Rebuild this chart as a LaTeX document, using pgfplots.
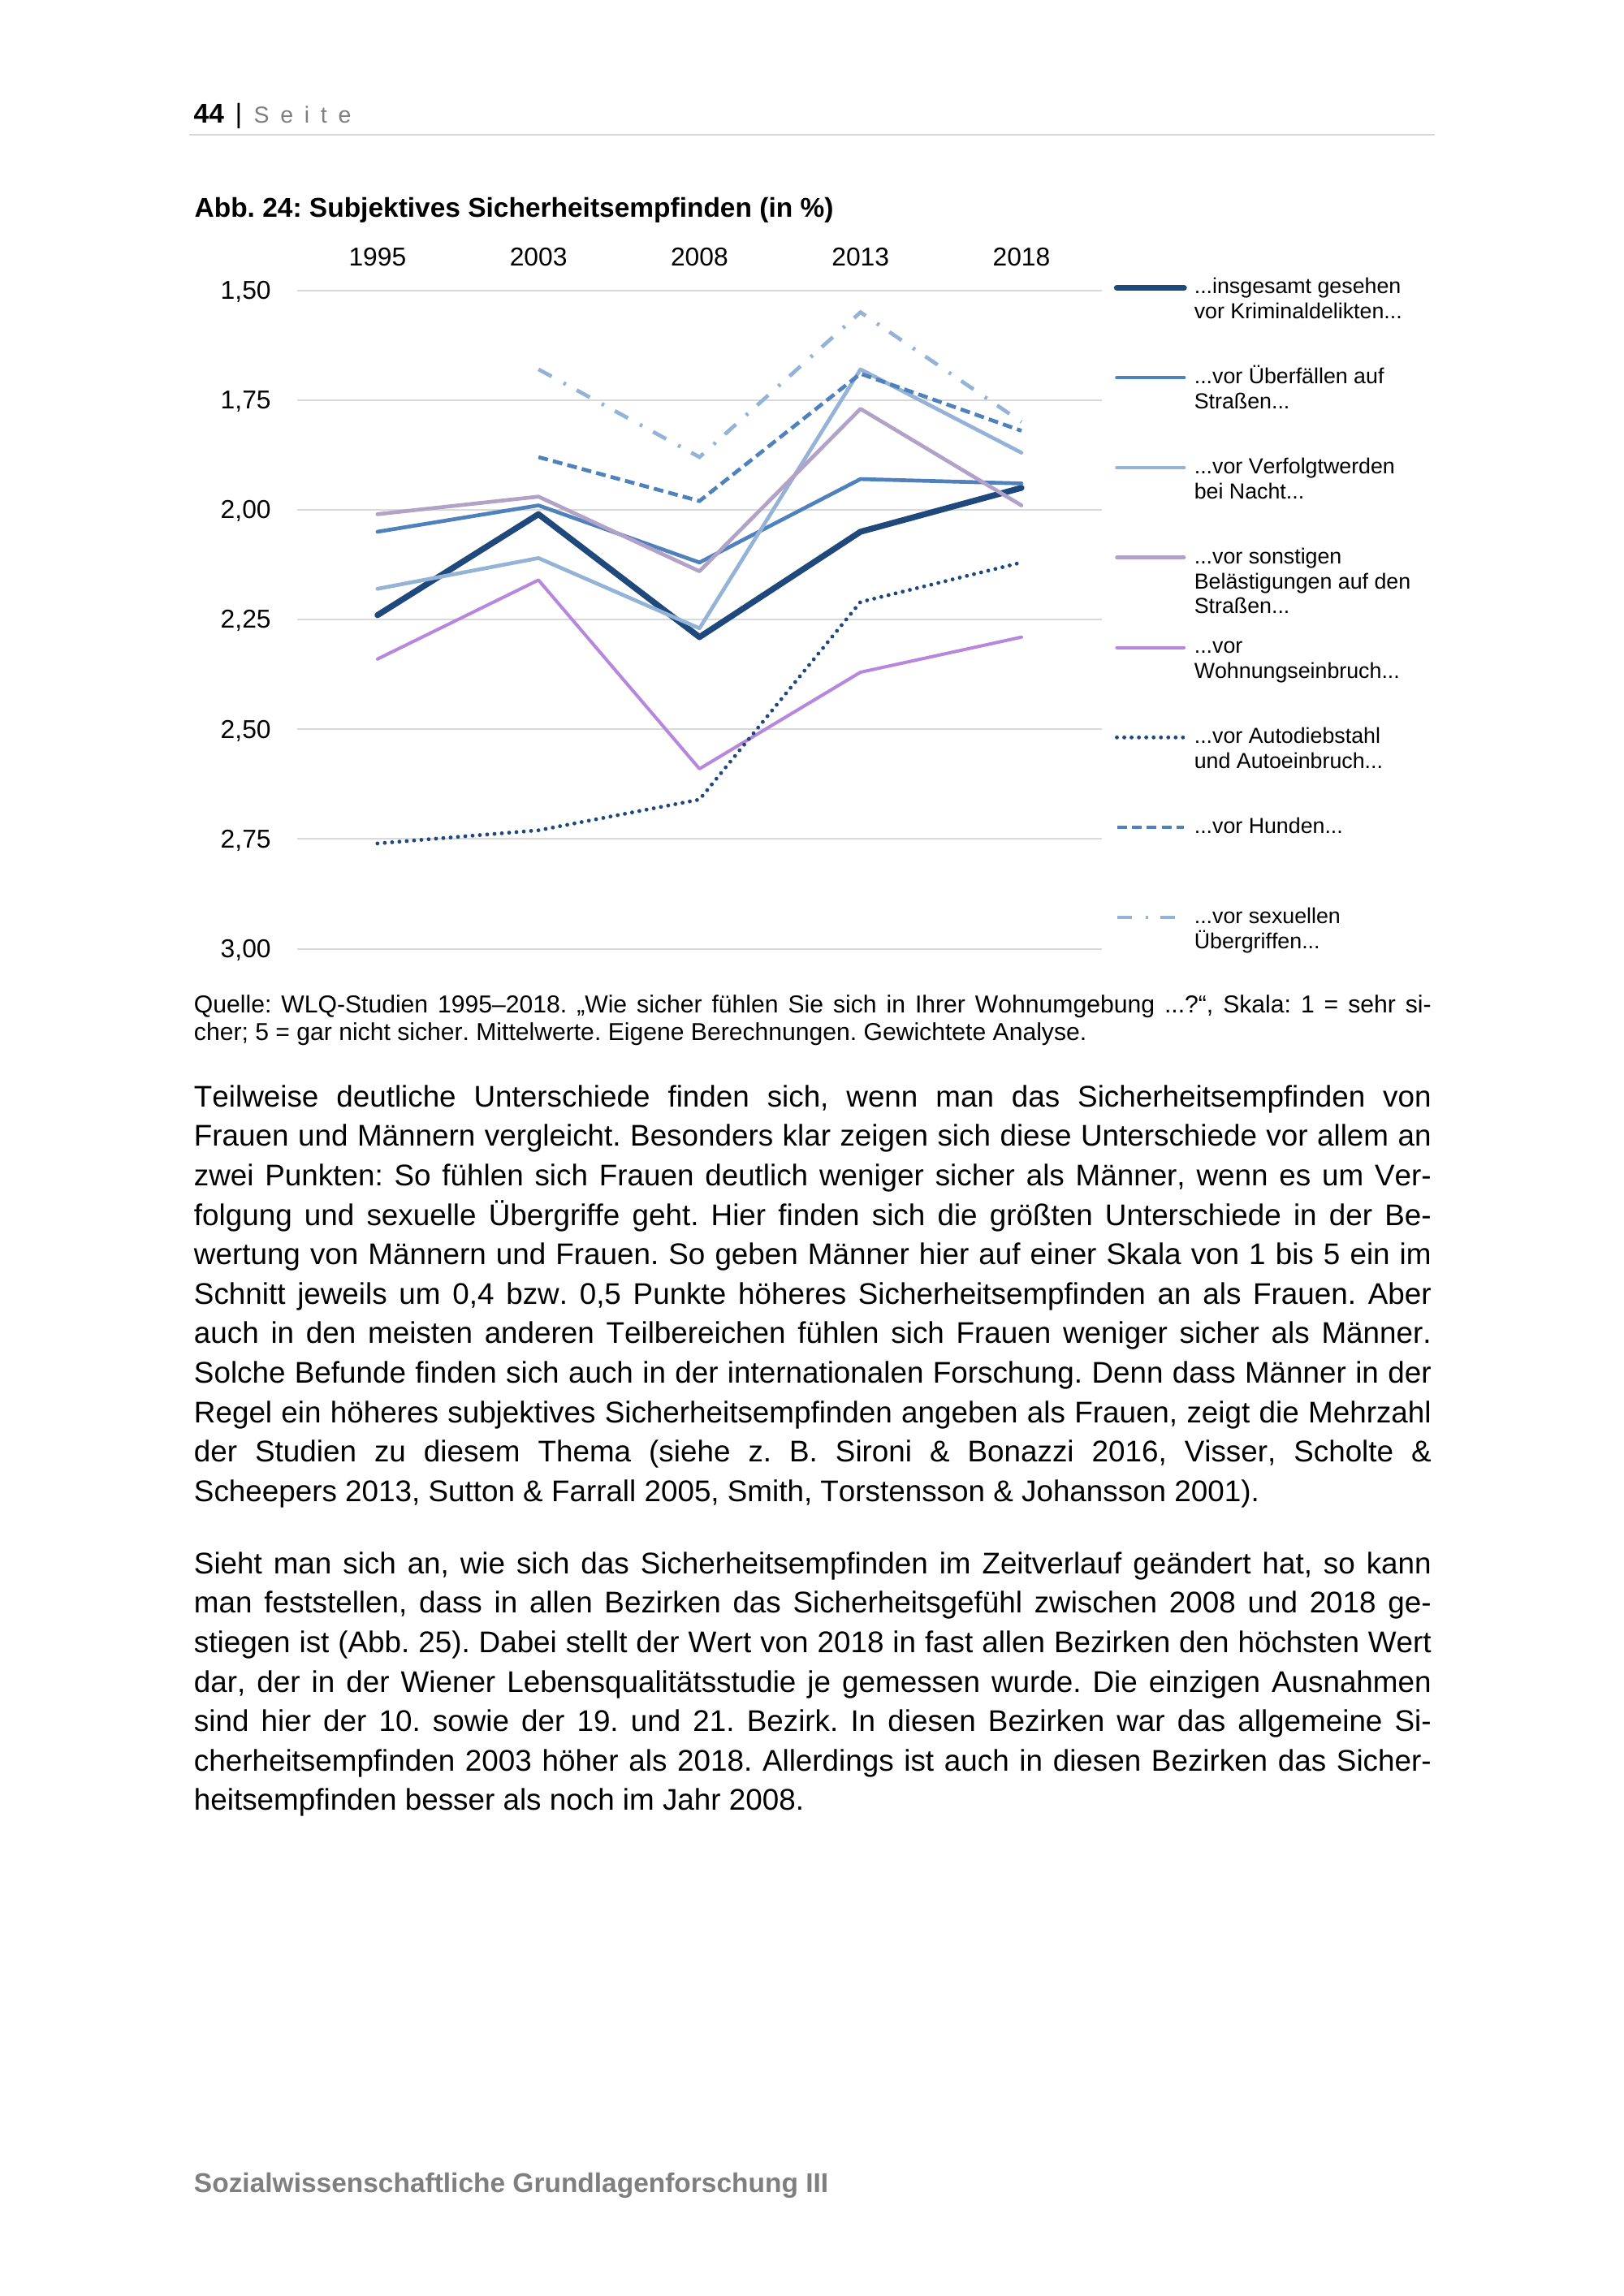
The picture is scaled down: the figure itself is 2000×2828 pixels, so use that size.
\documentclass[border=0pt]{standalone}
\usepackage{fontspec}
\setmainfont{Liberation Sans}[Ligatures=CommonOff, Kerning=Off]
\usepackage{pgfplots}
\pgfplotsset{compat=1.18}
\frenchspacing

\definecolor{navy}{RGB}{31,73,125}
\definecolor{midblue}{RGB}{79,129,189}
\definecolor{lightblue}{RGB}{149,179,215}
\definecolor{lilac}{RGB}{179,162,199}
\definecolor{orchid}{RGB}{183,135,222}
\definecolor{gridgray}{RGB}{217,217,217}
\definecolor{textgray}{RGB}{127,127,127}

% legend text block, first line is the baseline
\newcommand{\lt}[1]{\parbox[t]{35mm}{\raggedright #1}}

\begin{document}
\begin{tikzpicture}
% page in pixel units of the 2000 x 2828 reference
\begin{scope}[x=0.105mm, y=-0.105mm]
\fill[white] (0,0) rectangle (2000,2828);
\useasboundingbox (0,0) rectangle (2000,2828);

% header
\node[anchor=base west, inner sep=0pt, font=\bfseries\fontsize{10pt}{12pt}\selectfont] at (238,151.7) {44};
\node[anchor=base, inner sep=0pt, font=\fontsize{10pt}{12pt}\selectfont] at (294,151.7) {|};
\node[anchor=base west, inner sep=0pt, text=textgray, font=\fontsize{8.5pt}{10pt}\selectfont] at (312,151.7)
  {S\hspace{4.1pt}e\hspace{4.1pt}i\hspace{4.1pt}t\hspace{4.1pt}e};
\draw[gridgray, line width=0.6pt] (233,165.7) -- (1767,165.7);

% figure title
\node[anchor=base west, inner sep=0pt, font=\bfseries\fontsize{10pt}{12pt}\selectfont] at (239,267.5)
  {Abb. 24: Subjektives Sicherheitsempfinden (in \%)};

% source line
\node[anchor=base west, inner sep=0pt] at (238.3,1247.7) {\parbox[t]{160mm}{\fontsize{9pt}{10.12pt}\selectfont\tolerance=9999
Quelle: WLQ-Studien 1995–2018. „Wie sicher fühlen Sie sich in Ihrer Wohnumgebung ...?“, Skala: 1 = sehr si-\linebreak
cher; 5 = gar nicht sicher. Mittelwerte. Eigene Berechnungen. Gewichtete Analyse.}};

% body text
\node[anchor=base west, inner sep=0pt] at (238.3,1363.3) {\parbox[t]{160mm}{\fontsize{11pt}{14.52pt}\selectfont\tolerance=9999
Teilweise deutliche Unterschiede finden sich, wenn man das Sicherheitsempfinden von\linebreak
Frauen und Männern vergleicht. Besonders klar zeigen sich diese Unterschiede vor allem an\linebreak
zwei Punkten: So fühlen sich Frauen deutlich weniger sicher als Männer, wenn es um Ver-\linebreak
folgung und sexuelle Übergriffe geht. Hier finden sich die größten Unterschiede in der Be-\linebreak
wertung von Männern und Frauen. So geben Männer hier auf einer Skala von 1 bis 5 ein im\linebreak
Schnitt jeweils um 0,4 bzw. 0,5 Punkte höheres Sicherheitsempfinden an als Frauen. Aber\linebreak
auch in den meisten anderen Teilbereichen fühlen sich Frauen weniger sicher als Männer.\linebreak
Solche Befunde finden sich auch in der internationalen Forschung. Denn dass Männer in der\linebreak
Regel ein höheres subjektives Sicherheitsempfinden angeben als Frauen, zeigt die Mehrzahl\linebreak
der Studien zu diesem Thema (siehe z. B. Sironi \& Bonazzi 2016, Visser, Scholte \&\linebreak
Scheepers 2013, Sutton \& Farrall 2005, Smith, Torstensson \& Johansson 2001).}};

\node[anchor=base west, inner sep=0pt] at (238.3,1938.3) {\parbox[t]{160mm}{\fontsize{11pt}{14.52pt}\selectfont\tolerance=9999
Sieht man sich an, wie sich das Sicherheitsempfinden im Zeitverlauf geändert hat, so kann\linebreak
man feststellen, dass in allen Bezirken das Sicherheitsgefühl zwischen 2008 und 2018 ge-\linebreak
stiegen ist (Abb. 25). Dabei stellt der Wert von 2018 in fast allen Bezirken den höchsten Wert\linebreak
dar, der in der Wiener Lebensqualitätsstudie je gemessen wurde. Die einzigen Ausnahmen\linebreak
sind hier der 10. sowie der 19. und 21. Bezirk. In diesen Bezirken war das allgemeine Si-\linebreak
cherheitsempfinden 2003 höher als 2018. Allerdings ist auch in diesen Bezirken das Sicher-\linebreak
heitsempfinden besser als noch im Jahr 2008.}};

% footer
\node[anchor=base west, inner sep=0pt, text=textgray, font=\bfseries\fontsize{10pt}{12pt}\selectfont] at (238.3,2700)
  {Sozialwissenschaftliche Grundlagenforschung III};
\end{scope}

\begin{axis}[
    at={(38.40mm,-37.54mm)}, anchor=north west,
    scale only axis, width=104.09mm, height=85.16mm,
    xmin=-0.5, xmax=4.5, ymin=1.5, ymax=3, y dir=reverse,
    xtick={0,1,2,3,4}, xticklabels={1995,2003,2008,2013,2018},
    xticklabel pos=upper,
    ytick={1.5,1.75,2,2.25,2.5,2.75,3},
    yticklabels={{1,50},{1,75},{2,00},{2,25},{2,50},{2,75},{3,00}},
    axis line style={draw=none}, major tick length=0pt, tick style={draw=none},
    ymajorgrids, major grid style={gridgray, line width=0.6pt},
    tick label style={font=\fontsize{9.5pt}{11pt}\selectfont},
    xticklabel style={anchor=base, inner sep=0pt, yshift=3.13mm},
    yticklabel style={anchor=base east, inner sep=0pt, xshift=-3.3mm, yshift=-3.2pt},
    clip=false,
    legend style={at={(axis description cs:1.01483,1.0238)}, anchor=north west,
        draw=none, fill=none, inner sep=0pt, outer sep=0pt,
        row sep=3.1pt, column sep=0.95mm,
        font=\fontsize{8pt}{9.24pt}\selectfont,
        cells={anchor=base west},
        nodes={inner sep=0pt, text height=7pt, text depth=23pt}},
    legend image code/.code={\draw[#1] (0.3mm,2.2pt) -- (8.97mm,2.2pt);},
]
% ...insgesamt gesehen
\addplot[navy, line width=2.2pt, line join=round, line cap=round] coordinates {
    (0,2.24) (1,2.01) (2,2.29) (3,2.05) (4,1.95)};
\addlegendentry{\lt{...insgesamt gesehen\\vor Kriminaldelikten...}}

% ...vor Ueberfaellen
\addplot[midblue, line width=1.4pt, line join=round, line cap=round] coordinates {
    (0,2.05) (1,1.99) (2,2.12) (3,1.93) (4,1.94)};
\addlegendentry{\lt{...vor Überfällen auf\\Straßen...}}

% ...vor Verfolgtwerden
\addplot[lightblue, line width=1.4pt, line join=round, line cap=round] coordinates {
    (0,2.18) (1,2.11) (2,2.27) (3,1.68) (4,1.87)};
\addlegendentry{\lt{...vor Verfolgtwerden\\bei Nacht...}}

% ...vor sonstigen Belaestigungen
\addplot[lilac, line width=1.4pt, line join=round, line cap=round] coordinates {
    (0,2.01) (1,1.97) (2,2.14) (3,1.77) (4,1.99)};
\addlegendentry{\lt{...vor sonstigen\\Belästigungen auf den\\Straßen...}}

% ...vor Wohnungseinbruch
\addplot[orchid, line width=1.2pt, line join=round, line cap=round] coordinates {
    (0,2.34) (1,2.16) (2,2.59) (3,2.37) (4,2.29)};
\addlegendentry{\lt{...vor\\Wohnungseinbruch...}}

% ...vor Autodiebstahl
\addplot[navy, line width=1.45pt, line cap=round, dash pattern=on 0pt off 2.7pt] coordinates {
    (0,2.76) (1,2.73) (2,2.66) (3,2.21) (4,2.12)};
\addlegendentry{\lt{...vor Autodiebstahl\\und Autoeinbruch...}}

% ...vor Hunden
\addplot[midblue, line width=1.4pt, dash pattern=on 3.6pt off 1.9pt] coordinates {
    (1,1.88) (2,1.98) (3,1.69) (4,1.82)};
\addlegendentry{\lt{...vor Hunden...}}

% ...vor sexuellen Uebergriffen
\addplot[lightblue, line width=1.4pt, dash pattern=on 5.5pt off 5pt on 1pt off 4.5pt] coordinates {
    (1,1.68) (2,1.88) (3,1.55) (4,1.80)};
\addlegendentry{\lt{...vor sexuellen\\Übergriffen...}}
\end{axis}
\end{tikzpicture}
\end{document}
